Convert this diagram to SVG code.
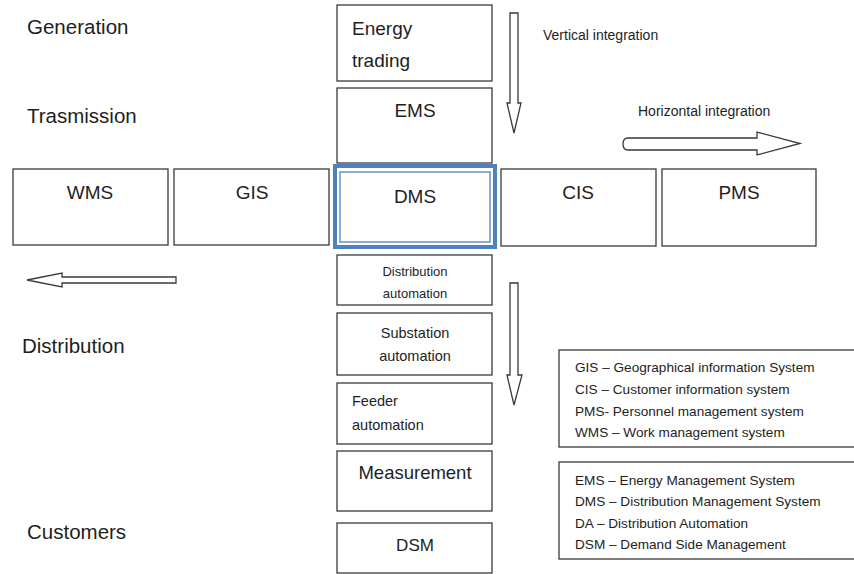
<svg xmlns="http://www.w3.org/2000/svg" width="854" height="574" viewBox="0 0 854 574">
<style>
text{font-family:"Liberation Sans","Open Sans",sans-serif;fill:#1e1e1e}
.box{fill:#fff;stroke:#3a3a3a;stroke-width:1.3}
.arr{fill:#fff;stroke:#3a3a3a;stroke-width:1.3;stroke-linejoin:miter}
.lvl{font-size:20.5px}
.big{font-size:19px;text-anchor:middle}
.c{text-anchor:middle}
.leg{font-size:13.6px}
</style>
<rect width="854" height="574" fill="#fff"/>
<g id="levels">
<text class="lvl" x="27" y="34">Generation</text>
<text class="lvl" x="27" y="123">Trasmission</text>
<text class="lvl" x="22" y="353">Distribution</text>
<text class="lvl" x="27" y="539">Customers</text>
</g>
<g id="energy-trading"><rect class="box" x="337" y="5" width="155" height="76"/>
<text style="font-size:19px" x="352" y="35">Energy</text><text style="font-size:19px" x="352" y="67">trading</text></g>
<g id="ems"><rect class="box" x="337" y="88" width="155" height="75"/><text class="big" x="415" y="117">EMS</text></g>
<g id="wms"><rect class="box" x="13" y="169" width="155" height="76"/><text class="big" x="90" y="199">WMS</text></g>
<g id="gis"><rect class="box" x="174" y="169" width="155" height="76"/><text class="big" x="252" y="199">GIS</text></g>
<g id="dms"><rect x="335" y="166" width="160" height="81" fill="#fff" stroke="#4f81bd" stroke-width="4"/>
<rect x="340" y="172" width="150" height="70" fill="none" stroke="#4f81bd" stroke-width="1.3"/>
<text class="big" x="415" y="203">DMS</text></g>
<g id="cis"><rect class="box" x="501" y="169" width="155" height="77"/><text class="big" x="578" y="199">CIS</text></g>
<g id="pms"><rect class="box" x="662" y="169" width="154" height="77"/><text class="big" x="739" y="199">PMS</text></g>
<g id="distribution-automation"><rect class="box" x="337" y="255" width="155" height="50"/>
<text class="c" style="font-size:13px" x="415" y="276">Distribution</text><text class="c" style="font-size:13px" x="415" y="298">automation</text></g>
<g id="substation-automation"><rect class="box" x="337" y="313" width="155" height="62"/>
<text class="c" style="font-size:14.5px" x="415" y="338">Substation</text><text class="c" style="font-size:14.5px" x="415" y="361">automation</text></g>
<g id="feeder-automation"><rect class="box" x="337" y="383" width="155" height="61"/>
<text style="font-size:14.5px" x="352" y="406">Feeder</text><text style="font-size:14.5px" x="352" y="430">automation</text></g>
<g id="measurement"><rect class="box" x="337" y="451" width="155" height="60"/><text class="c" style="font-size:18.5px" x="415" y="479">Measurement</text></g>
<g id="dsm"><rect class="box" x="337" y="523" width="155" height="50"/><text class="c" style="font-size:17px" x="415" y="551">DSM</text></g>
<g id="connectors">
<polygon class="arr" points="510,13 518,13 518,103 521,103 514,133 507,103 510,103"/>
<polygon class="arr" points="510,283 518,283 518,375 522,375 514,405 507,375 510,375"/>
<path class="arr" d="M628,138 L757,138 L757,132 L800,143.5 L757,155 L757,150 L628,150 Q623,150 623,144 Q623,138 628,138 Z"/>
<polygon class="arr" points="176,277 62,277 62,273 27,280 62,287 62,283 176,283"/>
<text style="font-size:14px" x="543" y="40">Vertical integration</text>
<text style="font-size:14px" x="638" y="116">Horizontal integration</text>
</g>
<g id="legend-1"><rect class="box" x="559" y="350" width="300" height="97"/>
<text class="leg" x="575" y="372">GIS – Geographical information System</text>
<text class="leg" x="575" y="394">CIS – Customer information system</text>
<text class="leg" x="575" y="416">PMS- Personnel management system</text>
<text class="leg" x="575" y="437">WMS – Work management system</text></g>
<g id="legend-2"><rect class="box" x="559" y="462" width="300" height="97"/>
<text class="leg" x="575" y="485">EMS – Energy Management System</text>
<text class="leg" x="575" y="506">DMS – Distribution Management System</text>
<text class="leg" x="575" y="528">DA – Distribution Automation</text>
<text class="leg" x="575" y="549">DSM – Demand Side Management</text></g>
</svg>
